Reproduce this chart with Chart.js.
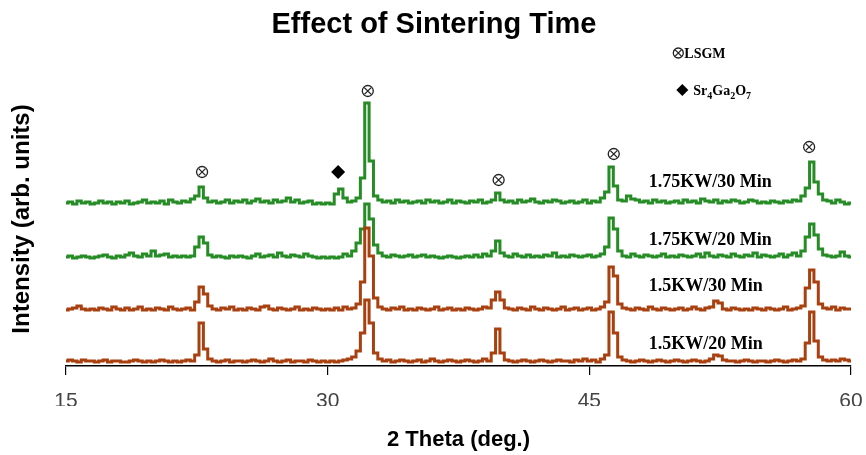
<!DOCTYPE html>
<html>
<head>
<meta charset="utf-8">
<script src="https://cdn.jsdelivr.net/npm/chart.js@4.4.1/dist/chart.umd.min.js"></script>
<style>
  html, body { margin: 0; padding: 0; background: #ffffff; }
  #wrap { width: 866px; height: 455px; }
</style>
</head>
<body>
<div id="wrap"><canvas id="xrdChart"></canvas></div>
<script>
// Scan range of the patterns (2 theta, deg.)
const scanStart = 15;
const scanStep = 0.25;

// Intensities, one value per scan step (arb. units, above each pattern's own baseline)
const sample15kw20 = [
  2,3,2,1,3,2,2,1,2,3,1,2,2,1,1,2,3,2,1,2,
  1,2,3,2,1,2,1,2,3,2,8,40,14,4,2,1,2,3,1,2,
  2,1,2,3,2,1,2,4,2,1,2,3,1,2,2,1,3,2,1,2,
  1,2,1,2,3,4,6,12,30,63,40,10,4,2,3,1,2,3,2,1,
  2,3,1,2,4,2,1,2,3,2,1,2,3,2,1,2,4,2,10,34,
  10,3,2,1,2,3,2,1,2,3,2,1,2,3,2,2,1,3,2,4,
  2,3,1,4,8,51,30,6,3,2,1,2,3,2,1,2,3,2,1,2,
  3,2,1,2,3,2,1,2,4,8,7,3,2,2,1,2,3,2,1,2,
  2,1,2,3,2,1,2,3,2,4,20,51,22,6,3,2,3,2,4,3,
  2
];
const sample15kw30 = [
  2,3,4,6,3,2,3,2,4,3,2,5,3,2,4,2,3,5,2,3,
  2,4,3,2,5,3,2,3,4,2,10,25,18,6,3,2,4,3,5,2,
  3,2,4,3,2,5,6,3,2,4,3,2,3,5,2,3,2,4,3,2,
  3,2,4,2,5,3,4,8,30,84,56,14,5,3,2,4,3,5,2,3,
  2,4,3,2,3,5,2,3,4,2,3,2,4,3,2,3,5,4,12,20,
  12,4,3,2,4,3,2,5,3,2,4,3,2,3,5,2,3,4,2,3,
  4,2,3,5,10,45,36,8,4,3,2,4,3,2,5,3,2,4,3,2,
  3,4,2,3,5,3,2,4,5,11,9,3,2,4,3,2,3,2,4,3,
  2,4,3,2,3,5,2,3,4,6,24,42,30,8,4,3,5,2,4,3,
  3
];
const sample175kw20 = [
  2,3,1,2,3,2,1,2,3,4,2,1,3,2,4,6,3,2,5,3,
  8,3,4,5,2,3,2,3,2,3,12,22,16,4,2,3,2,1,3,2,
  3,2,1,3,5,2,3,4,2,6,3,2,4,3,2,5,3,2,1,2,
  1,2,1,2,5,3,8,16,30,55,40,14,6,3,2,4,3,2,3,4,
  2,3,4,2,3,2,1,2,3,2,1,2,3,2,4,2,5,3,8,18,
  6,3,2,5,3,2,4,2,3,2,4,3,6,2,3,2,4,3,2,3,
  4,2,3,5,12,41,30,8,3,2,5,3,2,4,3,2,3,5,2,3,
  2,4,3,2,3,5,2,6,3,2,4,3,2,5,3,2,4,3,6,2,
  4,3,2,3,5,2,4,6,3,8,22,35,24,10,4,3,2,3,7,3,
  2
];
const sample175kw30 = [
  3,4,2,5,3,4,2,3,5,3,4,2,4,3,5,2,3,4,6,3,
  4,3,5,2,6,4,3,5,4,7,10,19,8,4,5,3,4,6,3,5,
  4,6,3,5,7,4,5,3,6,4,5,8,4,6,3,4,5,2,3,2,
  3,2,12,17,8,4,5,8,28,103,45,10,6,4,5,3,6,4,5,3,
  4,5,3,6,4,5,3,4,6,3,5,4,3,5,4,6,3,4,6,13,
  6,4,5,3,6,4,5,7,4,3,5,4,6,5,3,4,5,3,4,6,
  3,5,4,8,14,39,20,6,5,10,7,6,4,5,3,6,4,5,3,4,
  5,3,6,4,5,3,7,5,4,6,3,5,4,6,5,3,4,6,5,3,
  4,3,5,4,3,5,4,6,5,10,18,44,24,12,6,5,3,6,4,2,
  3
];

// Stacking offsets of the four patterns (arb. units)
const seriesLabels = ['1.5KW/20 Min', '1.5KW/30 Min', '1.75KW/20 Min', '1.75KW/30 Min'];
const seriesOffsets = [3, 54, 107, 160];
const seriesValues = [sample15kw20, sample15kw30, sample175kw20, sample175kw30];
const seriesColors = ['#a8400f', '#a8400f', '#268c26', '#268c26'];

// Peak markers: [2 theta, height]
const lsgmPeaks = [[22.8, 194], [32.3, 275], [39.8, 186], [46.4, 212], [57.6, 219]];
const srGaPeaks = [[30.6, 194]];

// Pattern labels: [2 theta of left edge, height]
const labelPositions = [[48.4, 22], [48.4, 80], [48.4, 126], [48.4, 184]];

const xTicks = [15, 30, 45, 60];

// Turn each pattern into x/y points, shifted by its offset
function buildPoints(values, offset) {
  return values.map((v, i) => ({ x: scanStart + i * scanStep, y: v + offset }));
}

// Draw the circled-cross marker used for LSGM
function drawCrossCircle(ctx, cx, cy, r) {
  ctx.save();
  ctx.strokeStyle = '#222';
  ctx.lineWidth = 1.3;
  ctx.beginPath();
  ctx.arc(cx, cy, r, 0, Math.PI * 2);
  ctx.stroke();
  const d = r * 0.62;
  ctx.beginPath();
  ctx.moveTo(cx - d, cy - d);
  ctx.lineTo(cx + d, cy + d);
  ctx.moveTo(cx + d, cy - d);
  ctx.lineTo(cx - d, cy + d);
  ctx.stroke();
  ctx.restore();
}

function drawDiamond(ctx, cx, cy, r) {
  ctx.save();
  ctx.fillStyle = '#000';
  ctx.beginPath();
  ctx.moveTo(cx, cy - r);
  ctx.lineTo(cx + r, cy);
  ctx.lineTo(cx, cy + r);
  ctx.lineTo(cx - r, cy);
  ctx.closePath();
  ctx.fill();
  ctx.restore();
}

// Titles, markers, legend and pattern labels
const annotate = {
  id: 'annotate',
  afterDraw(chart) {
    const { ctx, scales: { x, y } } = chart;
    ctx.save();
    ctx.fillStyle = '#000';

    // chart title
    ctx.font = 'bold 29px "Liberation Sans", Arial, sans-serif';
    ctx.textAlign = 'center';
    ctx.textBaseline = 'alphabetic';
    ctx.fillText('Effect of Sintering Time', 434, 33);

    // axis titles
    ctx.font = 'bold 22px "Liberation Sans", Arial, sans-serif';
    ctx.fillText('2 Theta (deg.)', (x.left + x.right) / 2, 446);
    ctx.save();
    ctx.translate(22, 219);
    ctx.rotate(-Math.PI / 2);
    ctx.font = 'bold 24px "Liberation Sans", Arial, sans-serif';
    ctx.textBaseline = 'middle';
    ctx.fillText('Intensity (arb. units)', 0, 0);
    ctx.restore();

    // peak markers
    lsgmPeaks.forEach(([t, h]) => drawCrossCircle(ctx, x.getPixelForValue(t), y.getPixelForValue(h), 5.5));
    srGaPeaks.forEach(([t, h]) => drawDiamond(ctx, x.getPixelForValue(t), y.getPixelForValue(h), 7));

    // pattern labels (bottom to top)
    ctx.font = 'bold 18px "Liberation Serif", "Times New Roman", serif';
    ctx.textAlign = 'left';
    ctx.textBaseline = 'middle';
    labelPositions.forEach(([t, h], i) => {
      ctx.fillText(seriesLabels[i], x.getPixelForValue(t), y.getPixelForValue(h));
    });

    // phase legend
    const lx = x.getPixelForValue(50.1);
    drawCrossCircle(ctx, lx, 53, 5);
    ctx.font = 'bold 14px "Liberation Serif", "Times New Roman", serif';
    ctx.textBaseline = 'alphabetic';
    ctx.fillText('LSGM', lx + 6, 58);

    drawDiamond(ctx, lx + 4, 90, 6);
    let px = lx + 15;
    const parts = [['Sr', false], ['4', true], ['Ga', false], ['2', true], ['O', false], ['7', true]];
    parts.forEach(([txt, sub]) => {
      ctx.font = sub ? 'bold 10px "Liberation Serif", serif' : 'bold 14px "Liberation Serif", serif';
      ctx.fillText(txt, px, sub ? 99 : 95);
      px += ctx.measureText(txt).width;
    });
    ctx.restore();
  }
};

const datasets = seriesValues.map((vals, i) => ({
  label: seriesLabels[i],
  data: buildPoints(vals, seriesOffsets[i]),
  borderColor: seriesColors[i],
  borderWidth: 3,
  pointRadius: 0,
  stepped: 'middle',
  fill: false
}));

new Chart(document.getElementById('xrdChart'), {
  type: 'line',
  data: { datasets },
  options: {
    responsive: true,
    maintainAspectRatio: false,
    animation: false,
    layout: { padding: { left: 66, right: 15, top: 100, bottom: 49 } },
    plugins: {
      legend: { display: false },
      title: { display: false },
      tooltip: { enabled: false }
    },
    scales: {
      x: {
        type: 'linear',
        min: 15,
        max: 60,
        afterFit: (scale) => {
          scale.height = 40;
          scale.paddingLeft = 0;
          scale.paddingRight = 0;
        },
        afterBuildTicks: (scale) => { scale.ticks = xTicks.map(v => ({ value: v })); },
        grid: { drawOnChartArea: false, drawTicks: true, tickLength: 9, color: '#000', lineWidth: 1.2 },
        border: { display: true, color: '#000', width: 1.5 },
        ticks: {
          padding: 14,
          color: '#444',
          font: { family: '"Liberation Sans", Arial, sans-serif', size: 21 },
          maxRotation: 0
        }
      },
      y: {
        display: false,
        min: 0,
        max: 266
      }
    }
  },
  plugins: [annotate]
});
</script>
</body>
</html>
